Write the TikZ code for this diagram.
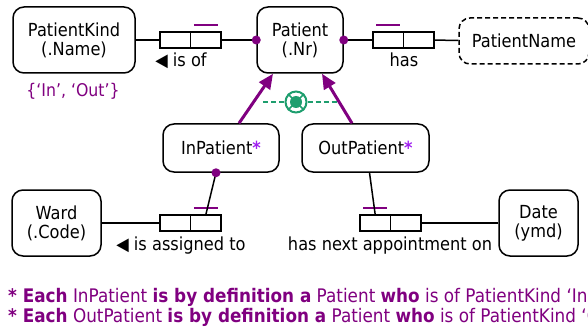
\documentclass[tikz,border=0pt]{standalone}
\usepackage{fontspec}
\setmainfont{DejaVu Sans}[FakeStretch=0.9]
\usepackage{tikz}
\usetikzlibrary{positioning, arrows.meta, calc}
\definecolor{oPurple}{HTML}{800080}
\definecolor{oStar}{HTML}{A020F0}
\definecolor{oGreen}{HTML}{1E9E6E}
\newcommand{\ormstar}{\textcolor{oStar}{\textbf{*}}}
\newcommand{\rdir}{{\fontsize{18}{18}\selectfont ◀}}

\begin{document}
\begin{tikzpicture}[x=1pt, y=-1pt, >=Stealth,
    entity/.style={draw, line width=1.5pt, rounded corners=11pt, align=center, inner sep=0pt,
      font=\fontsize{18}{19}\selectfont},
    rolebox/.style={draw, line width=1.5pt, minimum width=30.5pt, minimum height=16pt,
      inner sep=0pt, outer sep=0pt},
    conn/.style={line width=1.5pt},
    ubar/.style={oPurple, line width=1.5pt},
    mdot/.style={circle, fill=oPurple, inner sep=0pt, minimum size=9pt},
    subarrow/.style={oPurple, line width=3pt, -{Triangle[length=15pt, width=13pt]}},
    xline/.style={oGreen, line width=1.3pt, dash pattern=on 5pt off 3pt},
    lbl/.style={anchor=base, inner sep=0pt, font=\fontsize{18}{19}\selectfont},
    note/.style={anchor=base west, inner sep=0pt, text=oPurple, font=\fontsize{18.7}{20}\selectfont}]
  \useasboundingbox (0,0) rectangle (588,331);

  \node[entity, minimum width=122pt, minimum height=66pt] (kind) at (74,40) {PatientKind\\(.Name)};
  \node[entity, minimum width=86pt, minimum height=66pt] (patient) at (300,40) {Patient\\(.Nr)};
  \node[entity, dash pattern=on 5pt off 3pt, minimum width=130pt, minimum height=46pt] (pname) at (524,41) {PatientName};
  \node[entity, minimum width=116pt, minimum height=48pt] (inpat) at (221,148) {InPatient\ormstar};
  \node[entity, minimum width=127pt, minimum height=48pt] (outpat) at (365.5,148) {OutPatient\ormstar};
  \node[entity, minimum width=89pt, minimum height=66pt] (ward) at (56.5,223) {Ward\\(.Code)};
  \node[entity, minimum width=79pt, minimum height=66pt] (date) at (538.5,223) {Date\\(ymd)};

  \node[rolebox] (isof1) at (175.25,40) {};
  \node[rolebox, right=0pt of isof1] (isof2) {};
  \node[rolebox] (has1) at (388.25,40) {};
  \node[rolebox, right=0pt of has1] (has2) {};
  \node[rolebox] (asg1) at (175.25,223) {};
  \node[rolebox, right=0pt of asg1] (asg2) {};
  \node[rolebox] (appt1) at (375.25,223) {};
  \node[rolebox, right=0pt of appt1] (appt2) {};

  \draw[ubar] ($(isof2.north)+(-12,-7)$) -- ++(24,0);
  \draw[ubar] ($(has1.north)+(-12,-7)$) -- ++(24,0);
  \draw[ubar] ($(asg2.north)+(-12,-7)$) -- ++(24,0);
  \draw[ubar] ($(appt1.north)+(-12,-7)$) -- ++(24,0);

  \draw[conn] (kind) -- (isof1);
  \draw[conn] (isof2) -- (patient);
  \draw[conn] (patient) -- (has1);
  \draw[conn] (has2) -- (pname);
  \draw[conn] (ward) -- (asg1);
  \draw[conn] ([xshift=-5pt]inpat.south) -- (asg2.north);
  \draw[conn] ([xshift=4pt]outpat.south) -- (appt1.north);
  \draw[conn] (appt2) -- (date);

  \node[mdot] (dotpw) at (patient.west) {};
  \node[mdot] (dotpe) at (patient.east) {};
  \node[mdot] (dotin) at ([xshift=-5pt]inpat.south) {};

  \draw[subarrow] ([xshift=18pt]inpat.north) -- ([xshift=-27pt]patient.south);
  \draw[subarrow] ([xshift=-13.5pt]outpat.north) -- ([xshift=22pt]patient.south);

  \coordinate (exl) at (263,102);
  \coordinate (exr) at (337,102);
  \node[circle, draw=oGreen, line width=2pt, minimum size=21pt, inner sep=0pt] (excl) at (296,102) {};
  \draw[xline] (exl) -- (excl);
  \draw[xline] (excl) -- (exr);
  \draw[oGreen, line width=1.5pt] (excl.north west) -- (excl.south east)
    (excl.north east) -- (excl.south west);
  \fill[oGreen] (excl) circle[radius=6pt];

  \node[lbl] (isoflbl) at (181,67) {\rdir\ is of};
  \node[lbl] (haslbl) at (404,67) {has};
  \node[lbl] (asglbl) at (181,250) {\rdir\ is assigned to};
  \node[lbl] (apptlbl) at (390,250) {has next appointment on};
  \node[lbl, text=oPurple, font=\fontsize{17.5}{19}\selectfont] (kindval) at (73,97) {\{‘In’, ‘Out’\}};

  \node[note] (note1) at (8,302)
    {\textbf{* Each} InPatient \textbf{is by definition a} Patient \textbf{who} is of PatientKind ‘In’};
  \node[note] (note2) at (8,322)
    {\textbf{* Each} OutPatient \textbf{is by definition a} Patient \textbf{who} is of PatientKind ‘Out’};
\end{tikzpicture}
\end{document}
